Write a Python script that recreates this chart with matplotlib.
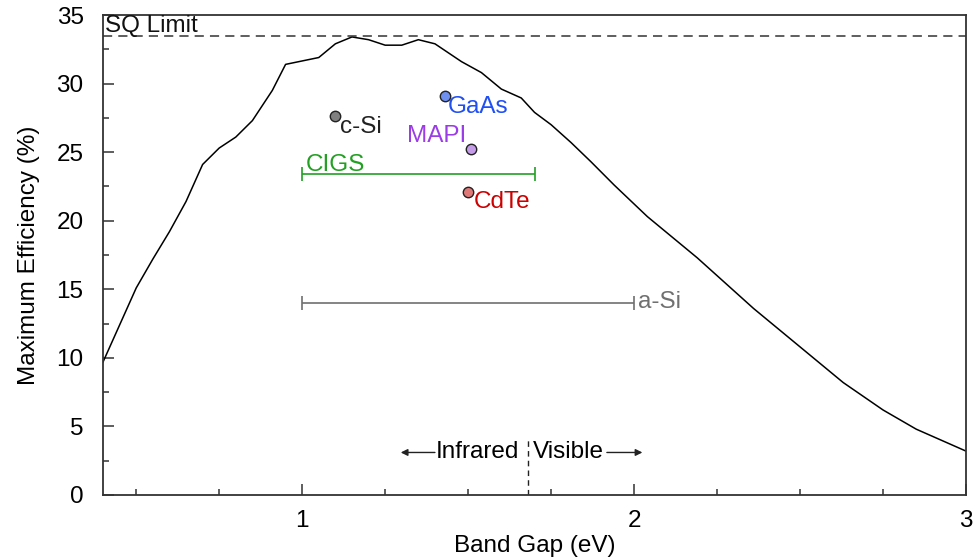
import matplotlib
matplotlib.use("Agg")
import matplotlib.pyplot as plt
from matplotlib.ticker import MultipleLocator

plt.rcParams['font.family'] = ['Liberation Sans', 'DejaVu Sans']

# Shockley-Queisser curve (band gap eV, max efficiency %)
gap = [0.40, 0.50, 0.55, 0.60, 0.65, 0.70, 0.75, 0.80, 0.85, 0.91, 0.95, 1.05, 1.10,
       1.15, 1.20, 1.25, 1.30, 1.35, 1.40, 1.48, 1.54, 1.60, 1.66, 1.70, 1.75, 1.81,
       1.87, 1.94, 2.04, 2.19, 2.36, 2.50, 2.63, 2.75, 2.85, 3.00]
eff = [9.7, 15.1, 17.2, 19.2, 21.4, 24.1, 25.3, 26.1, 27.3, 29.5, 31.4, 31.9, 32.9,
       33.4, 33.2, 32.8, 32.8, 33.2, 32.9, 31.6, 30.8, 29.6, 28.95, 27.9, 27.0, 25.7,
       24.3, 22.6, 20.3, 17.3, 13.6, 10.8, 8.2, 6.2, 4.8, 3.2]
sq_limit = 33.5

# single-gap materials
mat_names = ['c-Si', 'GaAs', 'MAPI', 'CdTe']
mat_gap = [1.10, 1.43, 1.51, 1.50]
mat_eff = [27.6, 29.1, 25.2, 22.1]
mat_fill = ['#808080', '#7090f0', '#c49ce8', '#e07878']
mat_text = ['#222222', '#1f4ff5', '#9b3de6', '#cc0000']

# range materials
rng_names = ['CIGS', 'a-Si']
rng_lo = [1.0, 1.0]
rng_hi = [1.7, 2.0]
rng_eff = [23.4, 14.0]
rng_color = ['#22a022', '#707070']

vis_boundary = 1.68

FS = 17.5

fig = plt.figure(figsize=(9.73, 5.6), dpi=100)
ax = fig.add_axes([0.1059, 0.1161, 0.8869, 0.8571])

ax.plot(gap, eff, color='black', lw=1.1)
ax.axhline(sq_limit, color='#333333', lw=1.1, dashes=(6, 4))
ax.text(0.407, sq_limit + 0.25, 'SQ Limit', fontsize=FS, va='baseline', ha='left', color='#111111')

offsets = {'c-Si': (0.015, -0.75, 'left'), 'GaAs': (0.008, -0.8, 'left'),
           'MAPI': (-0.015, 1.0, 'right'), 'CdTe': (0.018, -0.75, 'left')}
for n, g, e, fc, tc in zip(mat_names, mat_gap, mat_eff, mat_fill, mat_text):
    ax.plot([g], [e], 'o', ms=7.5, mfc=fc, mec='#222222', mew=1.0, zorder=4)
    dx, dy, ha = offsets[n]
    ax.text(g + dx, e + dy, n, fontsize=FS, color=tc, ha=ha, va='center')

for n, lo, hi, e, c in zip(rng_names, rng_lo, rng_hi, rng_eff, rng_color):
    mid = (lo + hi) / 2
    ax.errorbar([mid], [e], xerr=[[mid - lo], [hi - mid]], fmt='none', ecolor=c,
                elinewidth=1.2, capsize=5, capthick=1.2)
for n, lo, hi, e, c in zip(rng_names, rng_lo, rng_hi, rng_eff, rng_color):
    if n == 'CIGS':
        ax.text(lo + 0.01, e + 0.2, n, fontsize=FS, color=c, ha='left', va='baseline')
    else:
        ax.text(hi + 0.012, e + 0.1, n, fontsize=FS, color=c, ha='left', va='center')

# infrared / visible divider
ax.plot([vis_boundary, vis_boundary], [0, 4.2], color='#222222', lw=1.0, dashes=(4, 3))
ax.text(1.653, 3.1, 'Infrared', fontsize=FS, ha='right', va='center')
ax.text(1.695, 3.1, 'Visible', fontsize=FS, ha='left', va='center')
ax.annotate('', xy=(1.297, 3.1), xytext=(1.400, 3.1),
            arrowprops=dict(arrowstyle='-|>', color='#222222', lw=1.0,
                            mutation_scale=10, shrinkA=0, shrinkB=0))
ax.annotate('', xy=(2.025, 3.1), xytext=(1.918, 3.1),
            arrowprops=dict(arrowstyle='-|>', color='#222222', lw=1.0,
                            mutation_scale=10, shrinkA=0, shrinkB=0))

ax.set_xlim(0.4, 3.0)
ax.set_ylim(0, 35)
ax.xaxis.set_major_locator(MultipleLocator(1))
ax.xaxis.set_minor_locator(MultipleLocator(0.25))
ax.yaxis.set_major_locator(MultipleLocator(5))
ax.yaxis.set_minor_locator(MultipleLocator(2.5))
ax.tick_params(which='both', direction='in', top=False, right=False,
               labelsize=FS, color='#333333', width=1.1)
ax.tick_params(which='major', length=8)
ax.tick_params(which='minor', length=4)
ax.tick_params(axis='y', pad=14)
ax.tick_params(axis='x', pad=11)
for s in ax.spines.values():
    s.set_color('#333333')
    s.set_linewidth(1.3)

ax.set_xlabel('Band Gap (eV)', fontsize=FS, labelpad=2)
ax.set_ylabel('Maximum Efficiency (%)', fontsize=FS, labelpad=12)

fig.savefig('out.png', dpi=100)
